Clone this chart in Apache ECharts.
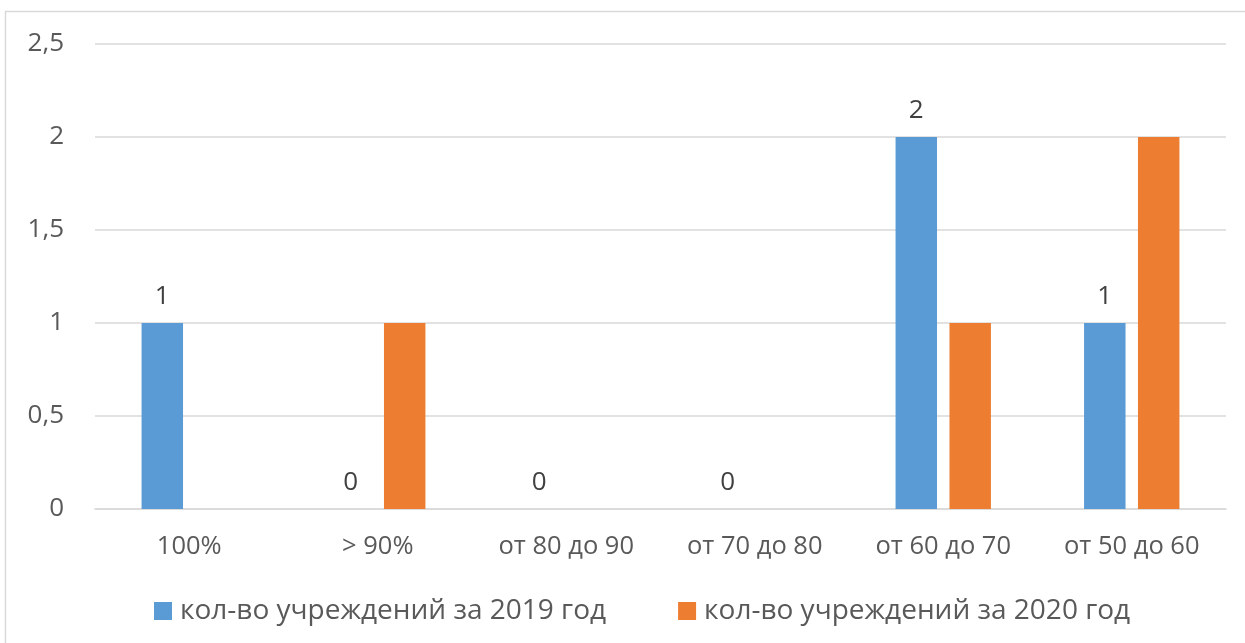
<!DOCTYPE html>
<html>
<head>
<meta charset="utf-8">
<script src="https://cdn.jsdelivr.net/npm/echarts@6/dist/echarts.min.js"></script>
<style>
  html, body { margin: 0; padding: 0; background: #fff; }
  #chart { width: 1245px; height: 643px; }
</style>
</head>
<body>
<div id="chart"></div>
<script>
// категории и данные
const categories = ['100%', '> 90%', 'от 80 до 90', 'от 70 до 80', 'от 60 до 70', 'от 50 до 60']
const seriesNames = ['кол-во учреждений за 2019 год', 'кол-во учреждений за 2020 год']
const values2019 = [1, 0, 0, 0, 2, 1]
const values2020 = [0, 1, 0, 0, 1, 2]
const yTicks = [0, 0.5, 1, 1.5, 2, 2.5]

const font = '"Open Sans", "Noto Sans", sans-serif'

let myChart = echarts.init(document.getElementById('chart'), null, { renderer: 'canvas' })
myChart.setOption({
  animation: false,
  textStyle: { fontFamily: font },
  // рамка диаграммы
  graphic: [
    {
      type: 'rect',
      shape: { x: 5.5, y: 11.5, width: 1400, height: 800 },
      style: { fill: 'none', stroke: '#d9d9d9', lineWidth: 1.5 },
      silent: true
    }
  ],
  grid: {
    left: 95,
    right: 19,
    top: 44,
    bottom: 134,
    containLabel: false
  },
  legend: {
    left: 149,
    top: 592,
    itemWidth: 18,
    itemHeight: 18,
    itemGap: 72,
    icon: 'rect',
    data: seriesNames,
    textStyle: {
      fontFamily: font,
      fontSize: 28,
      color: '#595959',
      padding: [0, 0, 0, 3]
    }
  },
  xAxis: {
    type: 'category',
    data: categories,
    axisLine: { lineStyle: { color: '#d9d9d9', width: 1.5 } },
    axisTick: { show: false },
    axisLabel: {
      fontFamily: font,
      fontSize: 25.5,
      color: '#595959',
      margin: 25
    }
  },
  yAxis: {
    type: 'value',
    min: yTicks[0],
    max: yTicks[yTicks.length - 1],
    interval: 0.5,
    axisLine: { show: false },
    axisTick: { show: false },
    splitLine: { lineStyle: { color: '#d9d9d9', width: 1.5 } },
    axisLabel: {
      fontFamily: font,
      fontSize: 26,
      color: '#595959',
      margin: 31,
      formatter: v => String(v).replace('.', ',')
    }
  },
  series: [
    {
      name: seriesNames[0],
      type: 'bar',
      data: values2019,
      barWidth: '22%',
      barGap: '30%',
      itemStyle: { color: '#5b9bd5' },
      label: {
        show: true,
        position: 'top',
        distance: 13,
        fontFamily: font,
        fontSize: 26,
        color: '#404040'
      }
    },
    {
      name: seriesNames[1],
      type: 'bar',
      data: values2020,
      barWidth: '22%',
      barGap: '30%',
      itemStyle: { color: '#ed7d31' }
    }
  ]
})
</script>
</body>
</html>
